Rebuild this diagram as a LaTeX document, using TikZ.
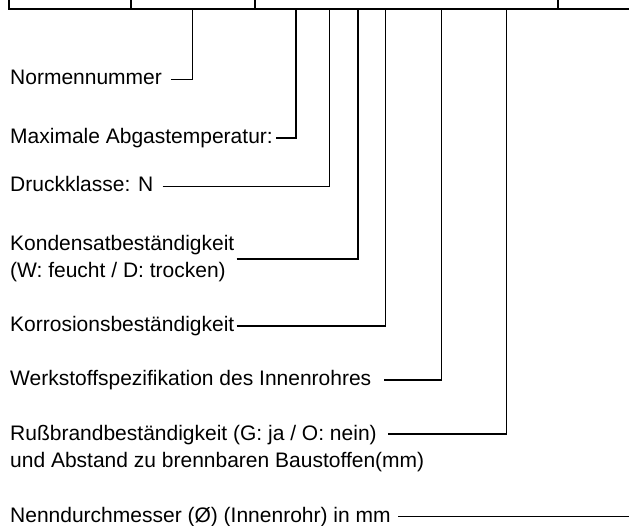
\documentclass[tikz,border=0pt]{standalone}
\usepackage{fontspec}
\setmainfont{Liberation Sans}
\begin{document}
\begin{tikzpicture}[x=1pt,y=-1pt,
  lbl/.style={inner sep=0pt, anchor=base west, font=\fontsize{21}{28}\selectfont},
  frameline/.style={line width=2pt},
  conn/.style={line width=1.4pt, line join=miter}]
\useasboundingbox (0,0) rectangle (629,526);
% frame at the top
\coordinate (fL) at (9,0);
\coordinate (fR) at (629,9.3);
\coordinate (d1) at (131.1,0);
\coordinate (d2) at (254.9,0);
\coordinate (d3) at (558,0);
\draw[frameline] (fL) |- (fR);
\draw[frameline] (d1) -- (d1 |- fR);
\draw[frameline] (d2) -- (d2 |- fR);
\draw[frameline] (d3) -- (d3 |- fR);
% connector tops
\coordinate (t1) at (192.4,9.3);
\coordinate (t2) at (295.8,9.3);
\coordinate (t3) at (329.5,9.3);
\coordinate (t4) at (357.9,9.3);
\coordinate (t5) at (385.6,9.3);
\coordinate (t6) at (441.5,9.3);
\coordinate (t7) at (506.5,9.3);
\coordinate (e8) at (629,0);
% labels
\node[lbl] (n1) at (10,84.5) {Normennummer};
\node[lbl] (n2) at (10,143.5) {Maximale Abgastemperatur:};
\node[lbl] (n3) at (10,192) {Druckklasse: N};
\node[lbl] (n4a) at (10,251) {Kondensatbeständigkeit};
\node[lbl] (n4b) at (10,278) {(W: feucht / D: trocken)};
\node[lbl] (n5) at (10,331.5) {Korrosionsbeständigkeit};
\node[lbl] (n6) at (10,385.5) {Werkstoffspezifikation des Innenrohres};
\node[lbl] (n7a) at (10,440) {Rußbrandbeständigkeit (G: ja / O: nein)};
\node[lbl] (n7b) at (10,467) {und Abstand zu brennbaren Baustoffen(mm)};
\node[lbl] (n8) at (10,522.5) {Nenndurchmesser (Ø) (Innenrohr) in mm};
% connectors
\draw[conn] ([xshift=8.8pt,yshift=5pt]n1.base east) -| (t1);
\draw[conn] ([xshift=3.2pt,yshift=5.5pt]n2.base east) -| (t2);
\draw[conn] ([xshift=9pt,yshift=5.5pt]n3.base east) -| (t3);
\draw[conn] ([xshift=2pt,yshift=-8pt]n4a.base east) -| (t4);
\draw[conn] ([xshift=2pt,yshift=5.5pt]n5.base east) -| (t5);
\draw[conn] ([xshift=13pt,yshift=5.5pt]n6.base east) -| (t6);
\draw[conn] ([xshift=11.5pt,yshift=6pt]n7a.base east) -| (t7);
\draw[conn] ([xshift=7.6pt,yshift=6pt]n8.base east) coordinate (s8) -- (s8 -| e8);
\end{tikzpicture}
\end{document}
